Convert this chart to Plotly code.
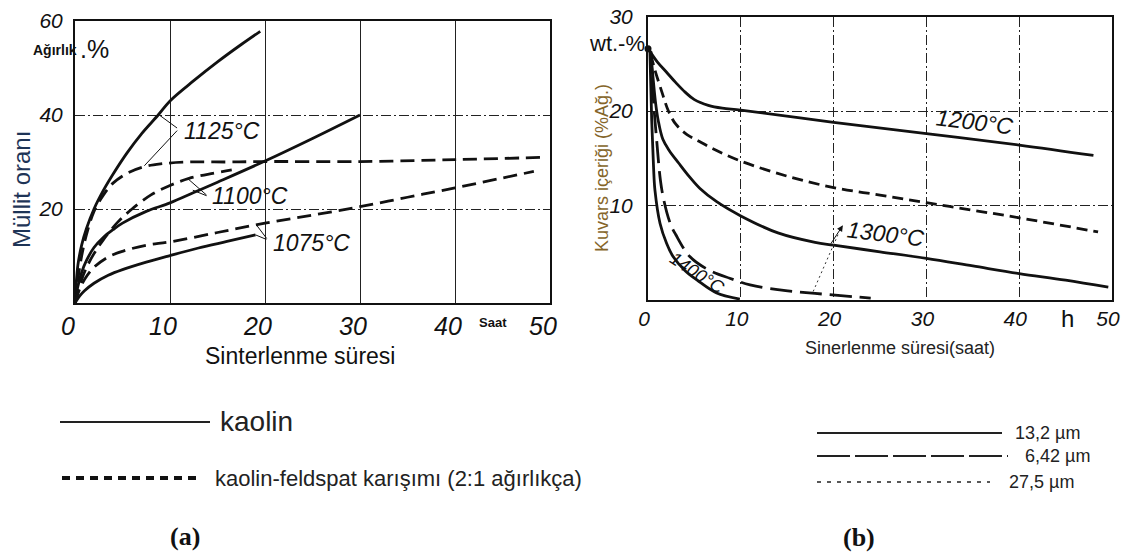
import plotly.graph_objects as go

# ---------------- (a) Müllit oranı ----------------
a_k1125_x = [0, 0.3, 0.7, 1.2, 2, 3, 4, 5.5, 7, 8.8, 10, 12.5, 15, 17.5, 19.5]
a_k1125_y = [0, 8, 12.3, 15.8, 20, 24, 27.4, 32, 36, 40.1, 43, 47.3, 51.3, 55, 57.8]
a_f1125_x = [0, 0.3, 0.7, 1.2, 2, 3, 4, 5.5, 7.3, 9, 12, 16, 20, 30, 40, 49.5]
a_f1125_y = [0, 5, 10, 14.5, 19.5, 23, 25.5, 27.6, 29, 29.6, 30, 30, 30.1, 30.1, 30.5, 31]
a_k1100_x = [0, 0.3, 0.7, 1.2, 2, 3, 4, 5, 7.5, 10, 12.5, 15, 20, 25, 30]
a_k1100_y = [0, 3.5, 6.5, 9, 11.8, 14, 15.6, 17, 19.5, 21.3, 23.5, 25.7, 30.2, 35, 40]
a_f1100_x = [0, 0.3, 0.7, 1.2, 2, 3, 4.5, 6, 8, 10, 12, 14.5, 16.5]
a_f1100_y = [0, 2.5, 5, 7.5, 10.5, 13.5, 17.2, 20, 23, 25, 26.5, 27.6, 28.3]
a_k1075_x = [0, 0.5, 1, 2, 3.5, 5, 7.5, 10, 13, 16, 19]
a_k1075_y = [0, 1.5, 2.6, 4.2, 5.9, 7.1, 8.7, 10.1, 11.7, 13.1, 14.5]
a_f1075_x = [0, 0.5, 1, 2, 3.5, 5, 7.5, 10, 15, 20, 25, 30, 35, 40, 48.3]
a_f1075_y = [0, 3, 5, 7.6, 9.8, 11, 12.3, 13, 15, 17, 18.7, 20.5, 22.5, 24.5, 28]

a_xticks = [0, 10, 20, 30, 40, 50]
a_yticks = [20, 40, 60]

# ---------------- (b) Kuvars içeriği ----------------
b_s1200_x = [0, 1, 2, 3, 4, 5, 6.5, 8, 10, 20, 30, 40, 48]
b_s1200_y = [26.6, 25.2, 24.1, 23, 22, 21.2, 20.6, 20.3, 20.1, 18.8, 17.6, 16.4, 15.3]
b_d1200_x = [0.3, 0.7, 1.5, 2.2, 3, 4.2, 5.5, 7, 10, 15, 20, 25, 30, 35, 40, 48.5]
b_d1200_y = [26, 24.5, 22, 20, 18.6, 17.5, 16.8, 16, 14.7, 13.1, 11.9, 11.1, 10.3, 9.5, 8.7, 7.2]
b_s1300_x = [0.3, 0.5, 0.8, 1.1, 1.6, 2.3, 3.3, 4.5, 5.6, 7.4, 10, 14, 18, 20, 25, 30, 35, 40, 45, 49.6]
b_s1300_y = [26.3, 24, 21, 19, 17, 15.8, 14.5, 13.0, 11.8, 10.4, 8.9, 7.1, 6.1, 5.8, 5.1, 4.4, 3.6, 2.8, 2.1, 1.35]
b_l1400_x = [0.3, 0.6, 0.9, 1.5, 2.4, 3.0, 4.5, 6.5, 8.8, 11, 14.2, 18, 24]
b_l1400_y = [26.3, 21, 17.3, 11.6, 8.1, 6.9, 4.6, 3.2, 2.3, 1.6, 1.06, 0.7, 0.2]
b_s1400_x = [0.2, 0.4, 0.6, 0.75, 1.3, 2, 2.7, 4, 5.3, 7.4, 9.9]
b_s1400_y = [26.4, 19, 14, 11.6, 8.1, 6, 4.6, 3.1, 2.1, 0.74, 0.1]
b_start_x = [0]
b_start_y = [26.6]

b_xticks = [0, 10, 20, 30, 40, 50]
b_yticks = [10, 20, 30]

# ---------------- layout helpers ----------------
W, H = 1130, 558


def px(v):
    return v / W


def py(v):
    return 1 - v / H


TICKF = "Liberation Sans, Arial, sans-serif"
SANS = "Liberation Sans, Arial, sans-serif"
SERIF = "Liberation Serif, Times New Roman, serif"
INK = "#111111"

fig = go.Figure()


def curve(x, y, dash, xa, ya):
    fig.add_trace(go.Scatter(x=x, y=y, mode="lines", xaxis=xa, yaxis=ya,
                             line=dict(color=INK, width=2.8, dash=dash, shape="spline", smoothing=1.0),
                             showlegend=False, hoverinfo="skip"))


DASH_A = "14px,7px"
curve(a_k1125_x, a_k1125_y, "solid", "x", "y")
curve(a_f1125_x, a_f1125_y, DASH_A, "x", "y")
curve(a_k1100_x, a_k1100_y, "solid", "x", "y")
curve(a_f1100_x, a_f1100_y, DASH_A, "x", "y")
curve(a_k1075_x, a_k1075_y, "solid", "x", "y")
curve(a_f1075_x, a_f1075_y, DASH_A, "x", "y")

curve(b_s1200_x, b_s1200_y, "solid", "x2", "y2")
curve(b_d1200_x, b_d1200_y, "11px,6px", "x2", "y2")
curve(b_s1300_x, b_s1300_y, "solid", "x2", "y2")
curve(b_l1400_x, b_l1400_y, "22px,8px", "x2", "y2")
curve(b_s1400_x, b_s1400_y, "solid", "x2", "y2")
fig.add_trace(go.Scatter(x=b_start_x, y=b_start_y, mode="markers", xaxis="x2", yaxis="y2",
                         marker=dict(color=INK, size=7), cliponaxis=False,
                         showlegend=False, hoverinfo="skip"))

axis_common = dict(showline=True, mirror=True, linecolor=INK, linewidth=2, zeroline=False,
                   ticks="", showgrid=True, gridcolor="#222222", gridwidth=1, fixedrange=True,
                   automargin=False)

fig.update_layout(
    template="none",
    width=W, height=H, margin=dict(l=0, r=0, t=0, b=0, autoexpand=False),
    paper_bgcolor="white", plot_bgcolor="white", showlegend=False,
    xaxis=dict(axis_common, domain=[px(75), px(550)], range=[0, 50], tickvals=a_xticks,
               anchor="y", griddash="solid",
               tickfont=dict(family=TICKF, size=25, color=INK, style="italic"),
               ticklabelstandoff=0, ticklabelshift=-7),
    yaxis=dict(axis_common, domain=[py(303), py(21)], range=[0, 60], tickvals=a_yticks,
               anchor="x", griddash="10px,3px,2px,3px",
               tickfont=dict(family=TICKF, size=21, color=INK, style="italic"),
               ticklabelstandoff=6),
    xaxis2=dict(axis_common, domain=[px(648), px(1112)], range=[0, 50], tickvals=b_xticks,
                anchor="y2", griddash="10px,3px,2px,3px",
                tickfont=dict(family=TICKF, size=21, color=INK, style="italic"),
                ticklabelstandoff=-1, ticklabelshift=-4),
    yaxis2=dict(axis_common, domain=[py(300), py(16.5)], range=[0, 30], tickvals=b_yticks,
                anchor="x2", griddash="10px,3px,2px,3px",
                tickfont=dict(family=TICKF, size=21, color=INK, style="italic"),
                ticklabelstandoff=9),
)

ann = []


def text(t, x, y, size, family=SANS, color=INK, angle=0, xanchor="center", xref="paper",
         yref="paper", weight="normal", style="normal"):
    ann.append(dict(text=t, x=x, y=y, xref=xref, yref=yref, showarrow=False, textangle=angle,
                    xanchor=xanchor, yanchor="middle",
                    font=dict(family=family, size=size, color=color, weight=weight, style=style)))


def leader(x0, y0, x1, y1, xref, yref, head=0):
    ann.append(dict(text="", x=x1, y=y1, ax=x0, ay=y0, xref=xref, yref=yref, axref=xref,
                    ayref=yref, showarrow=True, arrowhead=head, arrowwidth=1, arrowsize=1.2,
                    arrowcolor=INK, standoff=0, startstandoff=0))


# axis titles (a)
text("Ağırlık", px(55), py(50), 14, weight="bold")
text(".%", px(94), py(49), 25)
text("Müllit oranı", px(21), py(190), 24, color="#1e3456", angle=-90)
text("Sinterlenme süresi", px(300), py(356), 23)
text("Saat", 44, py(322), 13, xref="x", weight="bold")

# axis titles (b)
text("wt.-%", px(617), py(43), 22)
text("Kuvars içeriği (%Ağ.)", px(602), py(168), 18, color="#85652a", angle=-90)
text("Sinerlenme süresi(saat)", px(900), py(348), 18, color="#222222")
text("h", 45.2, py(318), 24, xref="x2")

# curve labels (a)
LBL = dict(family=TICKF, style="italic")
text("1125°C", 11.3, 36.7, 23, xanchor="left", xref="x", yref="y", **LBL)
text("1100°C", 14.2, 22.7, 23, xanchor="left", xref="x", yref="y", **LBL)
text("1075°C", 20.6, 12.8, 23, xanchor="left", xref="x", yref="y", **LBL)
leader(10.9, 37.0, 8.8, 40.1, "x", "y")
leader(10.9, 37.0, 7.3, 29.2, "x", "y")
leader(14.0, 22.7, 12.4, 24.0, "x", "y")
leader(14.0, 22.7, 11.9, 26.4, "x", "y")
leader(20.3, 13.4, 19.1, 16.6, "x", "y")
leader(20.3, 13.4, 19.0, 14.5, "x", "y")

# curve labels (b)
text("1200°C", 35.2, 18.8, 23, angle=7, xref="x2", yref="y2", **LBL)
text("1300°C", 25.6, 7.0, 23, angle=7, xref="x2", yref="y2", **LBL)
text("1400°C", 5.3, 2.9, 18, angle=33, xref="x2", yref="y2", **LBL)
leader(19.6, 5.8, 21.0, 7.9, "x2", "y2", head=2)

shapes = [dict(type="line", xref="x2", yref="y2", x0=17.8, y0=0.9, x1=20.6, y1=7.2,
               line=dict(color="#333333", width=1, dash="2px,3px"))]

# legend (a)
shapes.append(dict(type="line", xref="paper", yref="paper", x0=px(60), x1=px(210), y0=py(422), y1=py(422),
                   line=dict(color="#222222", width=2)))
shapes.append(dict(type="line", xref="paper", yref="paper", x0=px(62), x1=px(197), y0=py(478), y1=py(478),
                   line=dict(color="#111111", width=4, dash="8px,6px")))
text("kaolin", px(218), py(421), 28, xanchor="left", color="#222222")
text("kaolin-feldspat karışımı (2:1 ağırlıkça)", px(213), py(478), 22, xanchor="left", color="#222222")
text("(a)", px(185), py(536), 26, family=SERIF, weight="bold")

# legend (b)
shapes.append(dict(type="line", xref="paper", yref="paper", x0=px(817), x1=px(1002), y0=py(433), y1=py(433),
                   line=dict(color="#222222", width=2)))
shapes.append(dict(type="line", xref="paper", yref="paper", x0=px(817), x1=px(1008), y0=py(456), y1=py(456),
                   line=dict(color="#222222", width=2, dash="33px,5px")))
shapes.append(dict(type="line", xref="paper", yref="paper", x0=px(817), x1=px(990), y0=py(482), y1=py(482),
                   line=dict(color="#222222", width=1.3, dash="4px,6px")))
text("13,2 µm", px(1013), py(433), 18, xanchor="left", color="#222222")
text("6,42 µm", px(1023), py(456), 18, xanchor="left", color="#222222")
text("27,5 µm", px(1007), py(482), 18, xanchor="left", color="#222222")
text("(b)", px(859), py(537), 26, family=SERIF, weight="bold")

fig.update_layout(annotations=ann, shapes=shapes)
fig.write_html("out.html", config={"displayModeBar": False},
               post_script="document.body.style.margin='0';document.body.style.overflow='hidden';")
